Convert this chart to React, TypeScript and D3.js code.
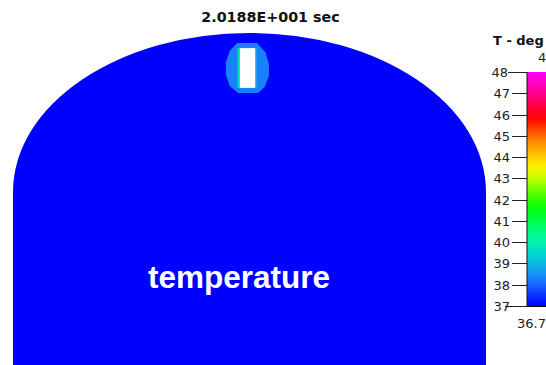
import React from "react";
import * as d3 from "d3";

// ---- data ----
const TITLE = "2.0188E+001 sec";
const LEGEND_TITLE = "T - deg";
const TICKS = [37, 38, 39, 40, 41, 42, 43, 44, 45, 46, 47, 48];
const T_MIN_LABEL = "36.7";
const T_MAX_LABEL = "48.0";
const T_MIN = 36.7;
const T_MAX = 48;
// colour stops of the palette (temperature, colour)
const STOP_T = [36.7, 38.0, 39.3, 40.2, 41.5, 43.3, 44.5, 45.8, 47.0, 48.0];
const STOP_C = ["#0000ff", "#1a80ff", "#00e0d0", "#00ff90", "#00ff00", "#ffff00", "#ff9900", "#ff0000", "#ff0090", "#ff00ff"];
// geometry (mm): half width of vessel, dome height, depth below dome base
const HALF_W = [-50, 50];
const DOME_H = 33.6;
const DEPTH = 36.6;
// temperature field regions (mm) and their temperature
const BODY_T = 36.7;
const HALO_T = 38.0;
const HALO_X = [-2.6, 1.6, 3.4, 4.1, 4.1, 3.2, 1.8, -2.4, -4.2, -5.0, -5.0, -4.2];
const HALO_Y = [31.5, 31.5, 29.5, 27.0, 24.5, 22.2, 20.9, 20.9, 22.4, 24.8, 27.4, 29.8];
const EDGE_T = 39.6;
const EDGE_X = [-2.5, 1.45];
const HOT_X = [-2.0, 1.15];
const HOT_Y = [22.0, 30.4];
const LABEL = "temperature";

export default function App() {
  const W = 546, H = 365;
  const x = d3.scaleLinear().domain(HALF_W).range([13, 486]);
  const y = d3.scaleLinear().domain([-DEPTH, DOME_H]).range([365, 33]);
  const color = d3.scaleLinear<string>().domain(STOP_T).range(STOP_C).interpolate(d3.interpolateRgb).clamp(true);

  const rx = (x(HALF_W[1]) - x(HALF_W[0])) / 2;
  const ry = y(0) - y(DOME_H);
  const p = d3.path();
  p.moveTo(x(HALF_W[0]), y(-DEPTH));
  p.lineTo(x(HALF_W[0]), y(0));
  const bodyD = p.toString() + ` A ${rx} ${ry} 0 0 1 ${x(HALF_W[1])} ${y(0)} L ${x(HALF_W[1])} ${y(-DEPTH)} Z`;

  const halo = d3.line<number>().x((_, i) => x(HALO_X[i])).y((_, i) => y(HALO_Y[i]))(HALO_X.map((d) => d)) + "Z";

  // colour bar
  const barX = 527, barW = 30;
  const ty = d3.scaleLinear().domain([37, 48]).range([306, 72]);
  const gradStops = d3.range(0, 1.0001, 0.05).map((f) => {
    const t = T_MIN + (T_MAX - T_MIN) * f;
    return { off: f, c: color(t) };
  });
  const barTop = ty(48), barBot = ty(37);

  return (
    <svg width={W} height={H} style={{ position: "fixed", left: 0, top: 0, background: "#fff" }}>
      <defs>
        <linearGradient id="cb" x1="0" y1="1" x2="0" y2="0">
          {gradStops.map((s, i) => (
            <stop key={i} offset={s.off} stopColor={s.c} />
          ))}
        </linearGradient>
      </defs>
      <text x={270.5} y={22} textAnchor="middle" fontFamily="DejaVu Sans, Verdana, sans-serif" fontWeight="bold" fontSize={14.3} fill="#111">
        {TITLE}
      </text>
      <path d={bodyD} fill={color(BODY_T)} />
      <path d={halo} fill={color(HALO_T)} />
      <rect x={x(EDGE_X[0])} y={y(HOT_Y[1])} width={x(EDGE_X[1]) - x(EDGE_X[0])} height={y(HOT_Y[0]) - y(HOT_Y[1])} fill={color(EDGE_T)} />
      <rect x={x(HOT_X[0])} y={y(HOT_Y[1])} width={x(HOT_X[1]) - x(HOT_X[0])} height={y(HOT_Y[0]) - y(HOT_Y[1])} fill="#ffffff" />
      <text x={239} y={288} textAnchor="middle" fontFamily="Liberation Sans, Arial, sans-serif" fontWeight="bold" fontSize={31.5} fill="#fff">
        {LABEL}
      </text>
      {/* legend */}
      <text x={493} y={45} fontFamily="DejaVu Sans, Verdana, sans-serif" fontWeight="bold" fontSize={13} fill="#111">
        {LEGEND_TITLE}
      </text>
      <text x={538} y={62} fontFamily="DejaVu Sans, Verdana, sans-serif" fontSize={13} fill="#222">
        {T_MAX_LABEL}
      </text>
      <rect x={barX} y={barTop} width={barW} height={barBot - barTop} fill="url(#cb)" />
      <line x1={barX} x2={barX} y1={barTop} y2={barBot} stroke="#111" strokeWidth={1} />
      <line x1={505} x2={barX + barW} y1={barBot + 0.5} y2={barBot + 0.5} stroke="#111" strokeWidth={1} />
      {TICKS.map((t) => (
        <g key={t}>
          <line x1={t === 48 ? 508 : 512} x2={barX} y1={Math.round(ty(t)) + 0.5} y2={Math.round(ty(t)) + 0.5} stroke="#222" strokeWidth={1} />
          <text x={t === 48 ? 508 : 510} y={ty(t) + 5} textAnchor="end" fontFamily="DejaVu Sans, Verdana, sans-serif" fontSize={13} fill="#222">
            {t}
          </text>
        </g>
      ))}
      <text x={517} y={328} fontFamily="DejaVu Sans, Verdana, sans-serif" fontSize={13} fill="#222">
        {T_MIN_LABEL}
      </text>
    </svg>
  );
}
